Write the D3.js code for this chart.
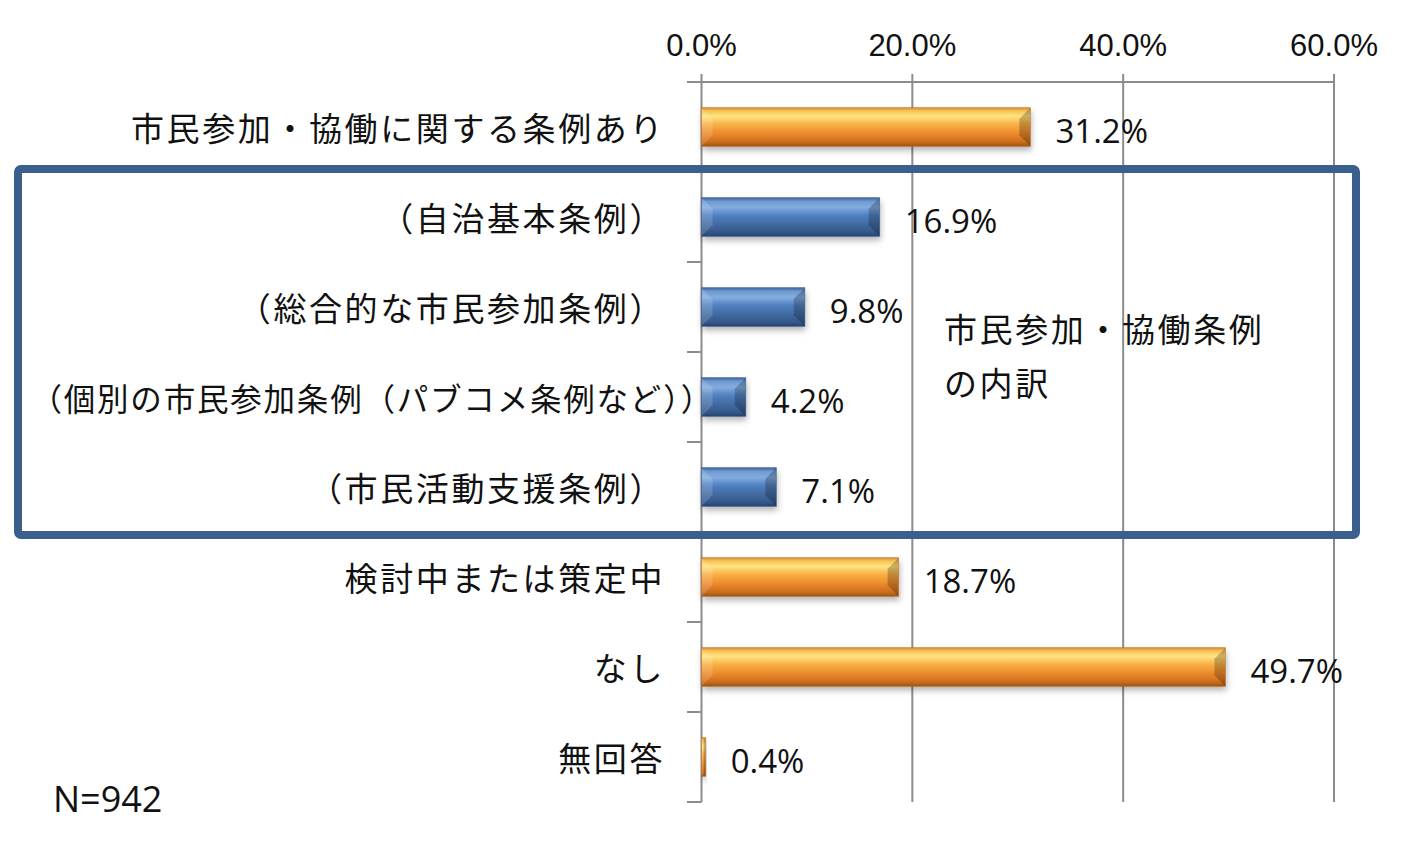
<!DOCTYPE html>
<html>
<head>
<meta charset="utf-8">
<script src="https://cdn.jsdelivr.net/npm/d3@7/dist/d3.min.js"></script>
<style>
  html, body { margin: 0; padding: 0; background: #fff; }
  svg { display: block; }
</style>
</head>
<body>
<svg id="chart" width="1425" height="856"></svg>
<script>
// ---- data ----
const categories = [
  "市民参加・協働に関する条例あり",
  "（自治基本条例）",
  "（総合的な市民参加条例）",
  "（個別の市民参加条例（パブコメ条例など））",
  "（市民活動支援条例）",
  "検討中または策定中",
  "なし",
  "無回答"
];
const values = [31.2, 16.9, 9.8, 4.2, 7.1, 18.7, 49.7, 0.4];
const groups = ["main", "sub", "sub", "sub", "sub", "main", "main", "main"];
const tickValues = [0, 20, 40, 60];
const boxLabelLines = ["市民参加・協働条例", "の内訳"];
const noteText = "N=942";

// ---- layout ----
const svg = d3.select("#chart");
const x = d3.scaleLinear().domain([0, 60]).range([701.5, 1334]);
const y = d3.scaleBand().domain(categories).range([82, 802]).paddingInner(0.57).paddingOuter(0.285);

const defs = svg.append("defs");
const gOrange = defs.append("linearGradient").attr("id", "gOrange").attr("x1", 0).attr("y1", 0).attr("x2", 0).attr("y2", 1);
[[0, "#d98b34"], [0.08, "#f7c052"], [0.22, "#ffe483"], [0.42, "#f8b348"], [0.65, "#ee8d2c"], [0.88, "#cf6e1c"], [1, "#9c5416"]]
  .forEach(([o, c]) => gOrange.append("stop").attr("offset", o).attr("stop-color", c));
const gBlue = defs.append("linearGradient").attr("id", "gBlue").attr("x1", 0).attr("y1", 0).attr("x2", 0).attr("y2", 1);
[[0, "#3d6498"], [0.1, "#6f9ad3"], [0.25, "#84acdf"], [0.45, "#5282c2"], [0.7, "#41699f"], [0.9, "#33578a"], [1, "#26426b"]]
  .forEach(([o, c]) => gBlue.append("stop").attr("offset", o).attr("stop-color", c));
const shadow = defs.append("filter").attr("id", "shadow").attr("x", "-10%").attr("y", "-30%").attr("width", "120%").attr("height", "180%");
shadow.append("feDropShadow").attr("dx", 1).attr("dy", 4).attr("stdDeviation", 3).attr("flood-color", "#000").attr("flood-opacity", 0.3);

// ---- grid & axes ----
const gridColor = "#8c8c8c";
svg.append("g").selectAll("line.grid").data(tickValues).join("line")
  .attr("x1", d => x(d)).attr("x2", d => x(d))
  .attr("y1", 74).attr("y2", 802)
  .attr("stroke", gridColor).attr("stroke-width", 2);
svg.append("line").attr("x1", 687).attr("x2", x(60)).attr("y1", 82).attr("y2", 82)
  .attr("stroke", gridColor).attr("stroke-width", 2);
const bounds = categories.map(c => y(c) - y.step() * y.paddingInner() / 2).concat([802]);
svg.append("g").selectAll("line").data(bounds).join("line")
  .attr("x1", 687).attr("x2", x(0)).attr("y1", d => d).attr("y2", d => d)
  .attr("stroke", gridColor).attr("stroke-width", 2);

// tick labels
svg.append("g").selectAll("text").data(tickValues).join("text")
  .attr("x", d => x(d)).attr("y", 56)
  .attr("text-anchor", "middle")
  .attr("font-family", "'Liberation Sans', Arial, sans-serif")
  .attr("font-size", 31)
  .attr("fill", "#111")
  .text(d => d3.format(".1f")(d) + "%");

// ---- bars ----
const barG = svg.append("g");
categories.forEach((c, i) => {
  const x0 = x(0), x1 = x(values[i]);
  const y0 = y(c), h = y.bandwidth(), y1 = y0 + h;
  const w = x1 - x0;
  const g = barG.append("g");
  g.append("rect").attr("x", x0).attr("y", y0).attr("width", w).attr("height", h)
    .attr("fill", groups[i] === "main" ? "url(#gOrange)" : "url(#gBlue)")
    .attr("filter", "url(#shadow)");
  const b = Math.min(11, w / 2);
  g.append("path")
    .attr("d", `M${x1 - b},${y0 + b} L${x1},${y0} L${x1},${y1} L${x1 - b},${y1 - b}Z`)
    .attr("fill", "#000").attr("opacity", 0.22);
  g.append("path")
    .attr("d", `M${x0},${y0} L${x0 + b},${y0 + b} L${x0 + b},${y1 - b} L${x0},${y1}Z`)
    .attr("fill", "#fff").attr("opacity", 0.15);
  g.append("rect").attr("x", x0).attr("y", y0).attr("width", w).attr("height", h)
    .attr("fill", "none").attr("stroke", groups[i] === "main" ? "#b9661c" : "#2f5283").attr("stroke-width", 0.8).attr("opacity", 0.6);
});

// value labels
svg.append("g").selectAll("text").data(categories).join("text")
  .attr("x", (c, i) => x(values[i]) + 25)
  .attr("y", c => y(c) + y.bandwidth() / 2 + 3)
  .attr("dominant-baseline", "central")
  .attr("font-family", "'Open Sans', 'Noto Sans', sans-serif")
  .attr("font-size", 33)
  .attr("fill", "#111")
  .text((c, i) => d3.format(".1f")(values[i]) + "%");

// category labels
const jpFont = "'Noto Sans CJK JP', 'Noto Sans', sans-serif";
const isLong = c => Array.from(c).length > 16;
svg.append("g").selectAll("text").data(categories).join("text")
  .attr("x", c => isLong(c) ? 714 : 665)
  .attr("y", c => y(c) + y.bandwidth() / 2)
  .attr("text-anchor", "end")
  .attr("dominant-baseline", "central")
  .attr("font-family", jpFont)
  .attr("font-weight", 400)
  .attr("font-size", c => isLong(c) ? 31.5 : 33)
  .attr("letter-spacing", c => isLong(c) ? 1.8 : 2.6)
  .attr("fill", "#111")
  .text(c => c);

// ---- highlight box around the sub-categories ----
const subIdx = groups.map((g, i) => g === "sub" ? i : -1).filter(i => i >= 0);
const boxTop = y(categories[subIdx[0]]) - y.step() * y.paddingInner() / 2 - 3;
const boxBottom = y(categories[subIdx[subIdx.length - 1]]) + y.bandwidth() + y.step() * y.paddingInner() / 2 + 3;
svg.append("rect")
  .attr("x", 18).attr("y", boxTop)
  .attr("width", 1356 - 18).attr("height", boxBottom - boxTop)
  .attr("rx", 3).attr("ry", 3)
  .attr("fill", "none").attr("stroke", "#3b5f8d").attr("stroke-width", 8);

svg.append("g").selectAll("text").data(boxLabelLines).join("text")
  .attr("x", 944)
  .attr("y", (d, i) => 328 + i * 54)
  .attr("dominant-baseline", "central")
  .attr("font-family", jpFont)
  .attr("font-weight", 400)
  .attr("font-size", 33)
  .attr("letter-spacing", 2.6)
  .attr("fill", "#111")
  .text(d => d);

// note
svg.append("text")
  .attr("x", 53).attr("y", 798)
  .attr("dominant-baseline", "central")
  .attr("font-family", "'Open Sans', 'Noto Sans', sans-serif")
  .attr("font-size", 36)
  .attr("fill", "#111")
  .text(noteText);
</script>
</body>
</html>
